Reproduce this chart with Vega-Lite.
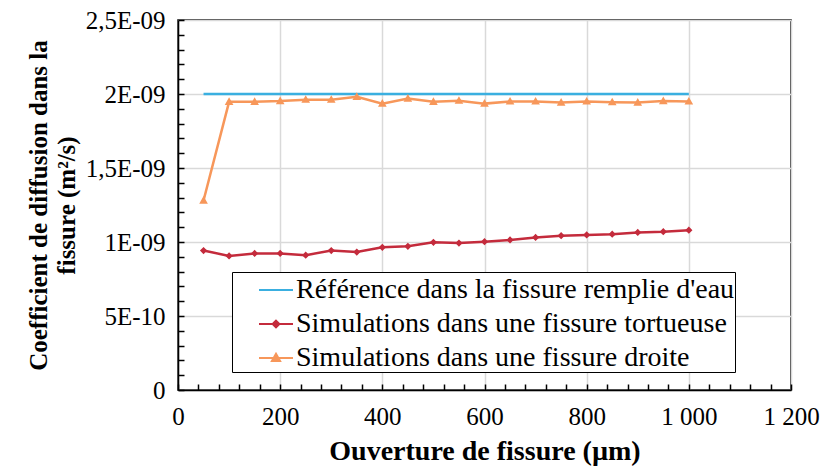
{
  "$schema": "https://vega.github.io/schema/vega-lite/v6.json",
  "width": 613,
  "height": 370,
  "autosize": "none",
  "padding": {"left": 178, "top": 20, "right": 30, "bottom": 84},
  "background": "white",
  "data": {
    "values": [
      {"x": 50, "y": 2e-9, "series": "Référence dans la fissure remplie d'eau"},
      {"x": 1000, "y": 2e-9, "series": "Référence dans la fissure remplie d'eau"},
      {"x": 50, "y": 0.942e-9, "series": "Simulations dans une fissure tortueuse"},
      {"x": 100, "y": 0.906e-9, "series": "Simulations dans une fissure tortueuse"},
      {"x": 150, "y": 0.923e-9, "series": "Simulations dans une fissure tortueuse"},
      {"x": 200, "y": 0.923e-9, "series": "Simulations dans une fissure tortueuse"},
      {"x": 250, "y": 0.911e-9, "series": "Simulations dans une fissure tortueuse"},
      {"x": 300, "y": 0.942e-9, "series": "Simulations dans une fissure tortueuse"},
      {"x": 350, "y": 0.932e-9, "series": "Simulations dans une fissure tortueuse"},
      {"x": 400, "y": 0.964e-9, "series": "Simulations dans une fissure tortueuse"},
      {"x": 450, "y": 0.971e-9, "series": "Simulations dans une fissure tortueuse"},
      {"x": 500, "y": 0.998e-9, "series": "Simulations dans une fissure tortueuse"},
      {"x": 550, "y": 0.993e-9, "series": "Simulations dans une fissure tortueuse"},
      {"x": 600, "y": 1.002e-9, "series": "Simulations dans une fissure tortueuse"},
      {"x": 650, "y": 1.014e-9, "series": "Simulations dans une fissure tortueuse"},
      {"x": 700, "y": 1.031e-9, "series": "Simulations dans une fissure tortueuse"},
      {"x": 750, "y": 1.043e-9, "series": "Simulations dans une fissure tortueuse"},
      {"x": 800, "y": 1.048e-9, "series": "Simulations dans une fissure tortueuse"},
      {"x": 850, "y": 1.053e-9, "series": "Simulations dans une fissure tortueuse"},
      {"x": 900, "y": 1.065e-9, "series": "Simulations dans une fissure tortueuse"},
      {"x": 950, "y": 1.070e-9, "series": "Simulations dans une fissure tortueuse"},
      {"x": 1000, "y": 1.080e-9, "series": "Simulations dans une fissure tortueuse"},
      {"x": 50, "y": 1.28e-9, "series": "Simulations dans une fissure droite"},
      {"x": 100, "y": 1.947e-9, "series": "Simulations dans une fissure droite"},
      {"x": 150, "y": 1.947e-9, "series": "Simulations dans une fissure droite"},
      {"x": 200, "y": 1.952e-9, "series": "Simulations dans une fissure droite"},
      {"x": 250, "y": 1.961e-9, "series": "Simulations dans une fissure droite"},
      {"x": 300, "y": 1.961e-9, "series": "Simulations dans une fissure droite"},
      {"x": 350, "y": 1.981e-9, "series": "Simulations dans une fissure droite"},
      {"x": 400, "y": 1.935e-9, "series": "Simulations dans une fissure droite"},
      {"x": 450, "y": 1.969e-9, "series": "Simulations dans une fissure droite"},
      {"x": 500, "y": 1.947e-9, "series": "Simulations dans une fissure droite"},
      {"x": 550, "y": 1.954e-9, "series": "Simulations dans une fissure droite"},
      {"x": 600, "y": 1.935e-9, "series": "Simulations dans une fissure droite"},
      {"x": 650, "y": 1.949e-9, "series": "Simulations dans une fissure droite"},
      {"x": 700, "y": 1.949e-9, "series": "Simulations dans une fissure droite"},
      {"x": 750, "y": 1.942e-9, "series": "Simulations dans une fissure droite"},
      {"x": 800, "y": 1.949e-9, "series": "Simulations dans une fissure droite"},
      {"x": 850, "y": 1.944e-9, "series": "Simulations dans une fissure droite"},
      {"x": 900, "y": 1.942e-9, "series": "Simulations dans une fissure droite"},
      {"x": 950, "y": 1.952e-9, "series": "Simulations dans une fissure droite"},
      {"x": 1000, "y": 1.949e-9, "series": "Simulations dans une fissure droite"}
    ]
  },
  "encoding": {
    "x": {
      "field": "x",
      "type": "quantitative",
      "scale": {"domain": [0, 1200], "nice": false, "zero": false},
      "axis": {
        "title": "Ouverture de fissure (µm)",
        "titleFontSize": 28,
        "titlePadding": 8,
        "values": [0,40,80,120,160,200,240,280,320,360,400,440,480,520,560,600,640,680,720,760,800,840,880,920,960,1000,1040,1080,1120,1160,1200],
        "labelExpr": "datum.value % 200 == 0 ? replace(format(datum.value, ','), ',', ' ') : ''",
        "labelPadding": 20,
        "labelFlush": false,
        "labelOverlap": false,
        "gridOpacity": {"condition": {"test": "datum.value % 200 == 0", "value": 1}, "value": 0}
      }
    },
    "y": {
      "field": "y",
      "type": "quantitative",
      "scale": {"domain": [0, 2.5e-9], "nice": false, "zero": false},
      "axis": {
        "title": ["Coefficient de diffusion dans la", "fissure (m²/s)"],
        "titleFontSize": 25,
        "titleLineHeight": 28,
        "titlePadding": 6,
        "values": [0,1e-10,2e-10,3e-10,4e-10,5e-10,6e-10,7e-10,8e-10,9e-10,1e-9,1.1e-9,1.2e-9,1.3e-9,1.4e-9,1.5e-9,1.6e-9,1.7e-9,1.8e-9,1.9e-9,2e-9,2.1e-9,2.2e-9,2.3e-9,2.4e-9,2.5e-9],
        "labelExpr": "round(datum.value*1e10)==0 ? '0' : round(datum.value*1e10)==5 ? '5E-10' : round(datum.value*1e10)==10 ? '1E-09' : round(datum.value*1e10)==15 ? '1,5E-09' : round(datum.value*1e10)==20 ? '2E-09' : round(datum.value*1e10)==25 ? '2,5E-09' : ''",
        "labelPadding": 19,
        "labelFlush": false,
        "labelOverlap": false,
        "gridOpacity": {"condition": {"test": "round(datum.value*1e10) % 5 == 0", "value": 1}, "value": 0}
      }
    },
    "color": {
      "field": "series",
      "type": "nominal",
      "scale": {
        "domain": ["Référence dans la fissure remplie d'eau", "Simulations dans une fissure tortueuse", "Simulations dans une fissure droite"],
        "range": ["#3AAFE0", "#C42B3C", "#F7975A"]
      }
    }
  },
  "layer": [
    {
      "mark": {"type": "line", "strokeWidth": 2.5}
    },
    {
      "mark": {"type": "point", "filled": true, "opacity": 1, "size": 1300, "strokeWidth": 0},
      "encoding": {
        "shape": {
          "field": "series",
          "type": "nominal",
          "scale": {
            "domain": ["Référence dans la fissure remplie d'eau", "Simulations dans une fissure tortueuse", "Simulations dans une fissure droite"],
            "range": [
              "M-1,0L1,0",
              "M-1,0L1,0M0,-0.2L0.2,0L0,0.2L-0.2,0Z",
              "M-1,0L1,0M0,-0.25L0.24,0.17L-0.24,0.17Z"
            ]
          }
        }
      }
    }
  ],
  "config": {
    "font": "Liberation Serif",
    "view": {"stroke": "black", "strokeWidth": 1.5},
    "text": {"font": "Liberation Serif"},
    "axis": {
      "labelFont": "Liberation Serif",
      "labelFontSize": 25,
      "labelColor": "black",
      "titleFont": "Liberation Serif",
      "titleColor": "black",
      "titleFontWeight": "bold",
      "domainColor": "black",
      "domainWidth": 1.5,
      "ticks": true,
      "tickColor": "black",
      "tickWidth": 1.5,
      "tickOpacity": 1,
      "tickSize": -6,
      "gridColor": "#D9D9D9",
      "gridWidth": 1.5
    },
    "legend": {
      "title": null,
      "orient": "none",
      "legendX": 54,
      "legendY": 252,
      "direction": "vertical",
      "strokeColor": "black",
      "fillColor": "white",
      "padding": 0,
      "rowPadding": 2,
      "symbolSize": 1156,
      "symbolOffset": 26,
      "labelOffset": 2,
      "labelLimit": 600,
      "labelFont": "Liberation Serif",
      "labelFontSize": 28,
      "labelColor": "black",
      "symbolStrokeWidth": 2,
      "symbolOpacity": 1
    }
  }
}
